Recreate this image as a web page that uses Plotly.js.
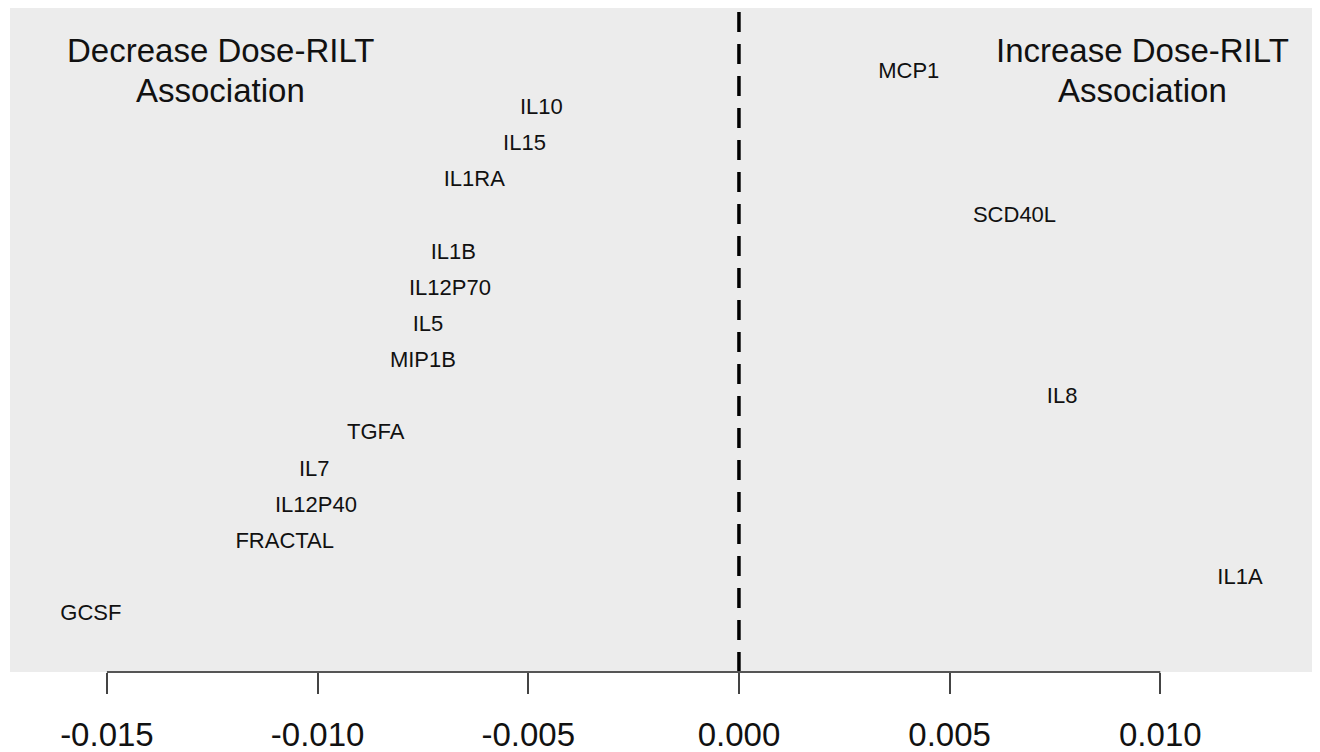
<!DOCTYPE html>
<html>
<head>
<meta charset="utf-8">
<script src="https://cdn.plot.ly/plotly-3.0.1.min.js"></script>
<style>html,body{margin:0;padding:0;background:#fff;}#chart{width:1320px;height:752px;}</style>
</head>
<body>
<div id="chart"></div>
<script>
// Data
var labels = ["MCP1","IL10","IL15","IL1RA","SCD40L","IL1B","IL12P70","IL5","MIP1B","IL8","TGFA","IL7","IL12P40","FRACTAL","IL1A","GCSF"];
var effects = [0.00403,-0.00469,-0.00509,-0.00628,0.00654,-0.00678,-0.00686,-0.00738,-0.00750,0.00767,-0.00862,-0.01008,-0.01004,-0.01078,0.01189,-0.01538];
var ranks = [1,2,3,4,5,6,7,8,9,10,11,12,13,14,15,16];
var tickValues = [-0.015,-0.010,-0.005,0.000,0.005,0.010];
var tickLabels = ["-0.015","-0.010","-0.005","0.000","0.005","0.010"];

var FONT = '"Liberation Sans", Arial, Helvetica, sans-serif';

var trace = {
  type: 'scatter',
  mode: 'text',
  x: effects,
  y: ranks,
  text: labels,
  textposition: 'middle center',
  textfont: {family: FONT, size: 22, color: '#111'},
  hoverinfo: 'text',
  showlegend: false
};

var layout = {
  width: 1320,
  height: 752,
  margin: {l: 10, r: 8, t: 8, b: 80, pad: 0},
  paper_bgcolor: '#ffffff',
  plot_bgcolor: '#ececec',
  font: {family: FONT, color: '#111'},
  xaxis: {
    range: [-0.0173, 0.0136],
    showgrid: false,
    zeroline: false,
    showline: false,
    ticks: 'outside',
    ticklen: 21,
    tickwidth: 2,
    tickcolor: '#444',
    tickvals: tickValues,
    ticktext: tickLabels,
    tickfont: {family: FONT, size: 33, color: '#111'},
    ticklabelstandoff: 12,
    fixedrange: true
  },
  yaxis: {
    range: [17.575, -0.768],
    showgrid: false,
    zeroline: false,
    showline: false,
    showticklabels: false,
    ticks: '',
    fixedrange: true
  },
  shapes: [
    {type: 'line', xref: 'x', yref: 'paper', x0: 0, x1: 0, y0: 0, y1: 1,
     line: {color: '#000', width: 3.5, dash: '20px,12px'}},
    {type: 'line', xref: 'x', yref: 'paper', x0: -0.015, x1: 0.010, y0: 0, y1: 0,
     line: {color: '#555', width: 2}}
  ],
  annotations: [
    {xref: 'paper', yref: 'paper', x: 0.162, y: 0.9367, text: 'Decrease Dose-RILT', showarrow: false,
     xanchor: 'center', yanchor: 'middle', font: {family: FONT, size: 33, color: '#111'}},
    {xref: 'paper', yref: 'paper', x: 0.162, y: 0.8765, text: 'Association', showarrow: false,
     xanchor: 'center', yanchor: 'middle', font: {family: FONT, size: 33, color: '#111'}},
    {xref: 'paper', yref: 'paper', x: 0.870, y: 0.9367, text: 'Increase Dose-RILT', showarrow: false,
     xanchor: 'center', yanchor: 'middle', font: {family: FONT, size: 33, color: '#111'}},
    {xref: 'paper', yref: 'paper', x: 0.870, y: 0.8765, text: 'Association', showarrow: false,
     xanchor: 'center', yanchor: 'middle', font: {family: FONT, size: 33, color: '#111'}}
  ]
};

Plotly.newPlot('chart', [trace], layout, {displayModeBar: false, staticPlot: true});
</script>
</body>
</html>
